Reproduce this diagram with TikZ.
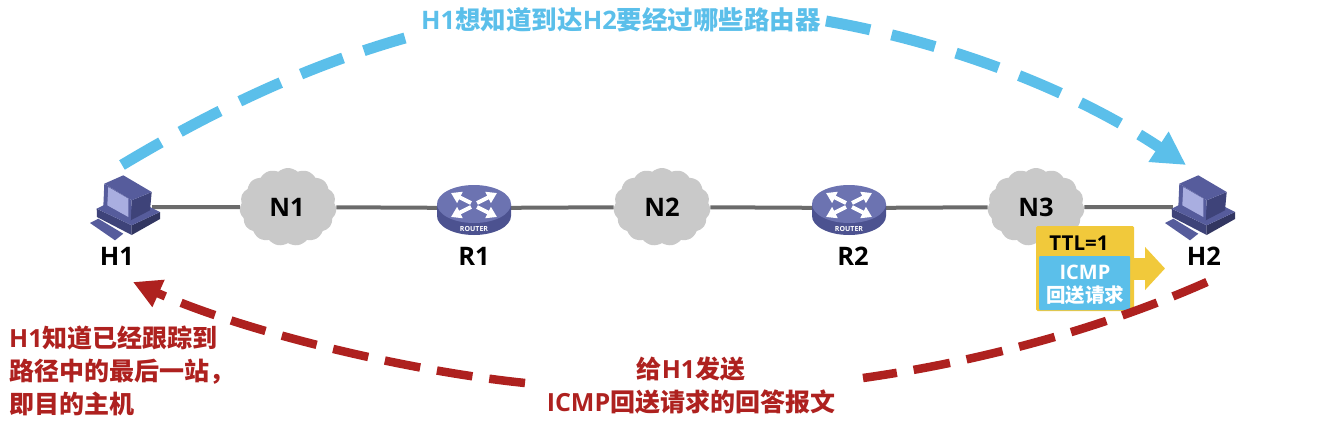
\documentclass[tikz,border=0pt]{standalone}
\usepackage{fontspec}
\setmainfont{Open Sans}
\newfontfamily\cjk{Noto Sans CJK SC}
\usetikzlibrary{positioning,arrows.meta,shapes.symbols,shapes.geometric}
\newcommand{\zh}[1]{{\cjk #1}}
\definecolor{skyblue}{HTML}{5BBFEA}
\definecolor{darkred}{HTML}{AE211F}
\definecolor{packetyellow}{HTML}{F1C93B}
\definecolor{hostdark}{HTML}{3E4379}
\definecolor{hostmid}{HTML}{565C9C}
\definecolor{hostlight}{HTML}{A9AEE0}
\definecolor{routertop}{HTML}{6C73B1}
\definecolor{routerside}{HTML}{4C5290}
\tikzset{
    netcloud/.style={cloud, cloud puffs=15, cloud puff arc=85, aspect=1.25, fill=black!21, minimum width=97, minimum height=78, inner sep=0},
    netrouter/.style={ellipse, minimum width=74, minimum height=40, inner sep=0},
    nethost/.style={rectangle, minimum width=54, minimum height=30, inner sep=0},
    netlabel/.style={font=\bfseries\fontsize{25.5}{30}\selectfont, inner sep=0},
    netline/.style={draw=black!58, line width=4},
    blueflow/.style={draw=skyblue, line width=11, dash pattern=on 45 off 22},
    redflow/.style={draw=darkred, line width=8.5, dash pattern=on 36 off 17},
    routerarrow/.style={draw=white, line width=4, -{Triangle[length=10,width=12]}},
    hostpic/.pic={
        \fill[hostmid] (-35,16) -- (-26.7,11.7) -- (-1.7,26.7) -- (-10,33.3) -- cycle;
        \fill[hostdark] (-28.3,1.7) -- (6.7,18.3) -- (6.7,28) -- (-28,10) -- cycle;
        \fill[hostdark!80!black] (6.7,18.3) -- (35,5) -- (35,12) -- (6.7,28) -- cycle;
        \fill[hostmid] (-28.3,1.7) -- (-21,-2) -- (25,0) -- (35,5) -- (6.7,18.3) -- cycle;
        \fill[hostdark] (6.7,-6.7) -- (26.7,-15) -- (25,3.3) -- (5.7,13.3) -- cycle;
        \fill[hostmid] (-20.7,-23.3) -- (-1.7,-31.7) -- (26.7,-15) -- (6.7,-6.7) -- cycle;
        \fill[hostmid] (-20.7,-23.3) -- (6.7,-6.7) -- (5.7,13.3) -- (-21.7,0) -- cycle;
        \fill[hostlight] (-16.7,-20) -- (3.3,-8.3) -- (3.3,10) -- (-17.7,-1.7) -- cycle;
    },
    routerpic/.pic={
        \fill[routerside] (-37,-4) -- (-37,8) arc[start angle=180, end angle=0, x radius=37, y radius=19] -- (37,-4) -- cycle;
        \fill[routertop] (0,-4) ellipse[x radius=37, y radius=19];
        \draw[routerarrow] (-3,-5) -- (-23,-15);
        \draw[routerarrow] (3,-5) -- (23,-15);
        \draw[routerarrow] (-3,-1) -- (-23,9);
        \draw[routerarrow] (3,-1) -- (23,9);
        \node[text=white, font=\bfseries\fontsize{7}{8}\selectfont, inner sep=0] at (0,21) {ROUTER};
    },
}

\begin{document}
\begin{tikzpicture}[x=1pt, y=-1pt]

            \useasboundingbox (0,0) rectangle (1332,428);

            \node[nethost]  (H1) at (125,207) {};
            \node[netcloud] (N1) at (288,207) {};
            \node[netrouter] (R1) at (474,208) {};
            \node[netcloud] (N2) at (662,207) {};
            \node[netrouter] (R2) at (849,208) {};
            \node[netcloud] (N3) at (1036,207) {};
            \node[nethost]  (H2) at (1200,207) {};

            \path[netline]
                (H1) edge (N1)
                (N1) edge (R1)
                (R1) edge (N2)
                (N2) edge (R2)
                (R2) edge (N3)
                (N3) edge (H2);

            \pic at (H1) {hostpic};
            \pic at (H2) {hostpic};
            \pic at (R1) {routerpic};
            \pic at (R2) {routerpic};

            \node[netlabel] (N1text) at (287,207) {N1};
            \node[netlabel] (N2text) at (662,207) {N2};
            \node[netlabel] (N3text) at (1036,207) {N3};
            \node[netlabel] (H1text) at (117,256) {H1};
            \node[netlabel] (R1text) at (474,256) {R1};
            \node[netlabel] (R2text) at (853,256) {R2};
            \node[netlabel] (H2text) at (1204,256) {H2};

            \node[fill=packetyellow, rounded corners=1.5, minimum width=98, minimum height=85, inner sep=0] (packet) at (1085,268.5) {};
            \coordinate (packettip) at (1165,268.5);
            \draw[packetyellow, line width=22, -{Triangle[length=20,width=42]}] (packet.east) -- (packettip);
            \node[fill=skyblue, rounded corners=1, minimum width=91, minimum height=54, inner sep=0] (icmp) at (1084.5,283) {};
            \node[font=\bfseries\fontsize{20.5}{24}\selectfont, inner sep=0] (ttl) at (1079,243) {TTL=1};
            \node[text=white, font=\bfseries\fontsize{20}{24}\selectfont, inner sep=0] (icmptext) at (1085,272) {ICMP};
            \node[text=white, font=\cjk\bfseries\fontsize{19.5}{24}\selectfont, inner sep=0] (echotext) at (1085,295) {回送请求};

            \coordinate (blue0) at (122,165);
            \coordinate (blue1) at (405,38);
            \coordinate (blue2) at (826,21);
            \coordinate (blue3) at (1186,165);
            \node[netlabel, text=skyblue] (asktext) at (621,20) {H1\zh{想知道到达}H2\zh{要经过哪些路由器}};
            \draw[blueflow] (blue0) .. controls (217,108) and (310,65) .. (blue1);
            \draw[blueflow, -{Triangle[length=33,width=34]}] (blue2) .. controls (946,42) and (1070,88) .. (blue3);

            \coordinate (red0) at (1207,282);
            \coordinate (red1) at (863,378);
            \coordinate (red2) at (525,383);
            \coordinate (red3) at (133,282);
            \node[netlabel, text=darkred, align=center, font=\bfseries\fontsize{25}{33}\selectfont] (replytext) at (691,386) {\zh{给}H1\zh{发送}\\ICMP\zh{回送请求的回答报文}};
            \node[netlabel, text=darkred, align=left, anchor=west, font=\bfseries\fontsize{25}{33}\selectfont] (donetext) at (9,371) {H1\zh{知道已经跟踪到}\\\zh{路径中的最后一站，}\\\zh{即目的主机}};
            \draw[redflow, dash pattern=on 37 off 17] (red0) .. controls (1110,325) and (990,360) .. (red1);
            \draw[redflow, -{Triangle[length=28,width=28]}] (red2) .. controls (400,370) and (240,330) .. (red3);

        \end{tikzpicture}
\end{document}
